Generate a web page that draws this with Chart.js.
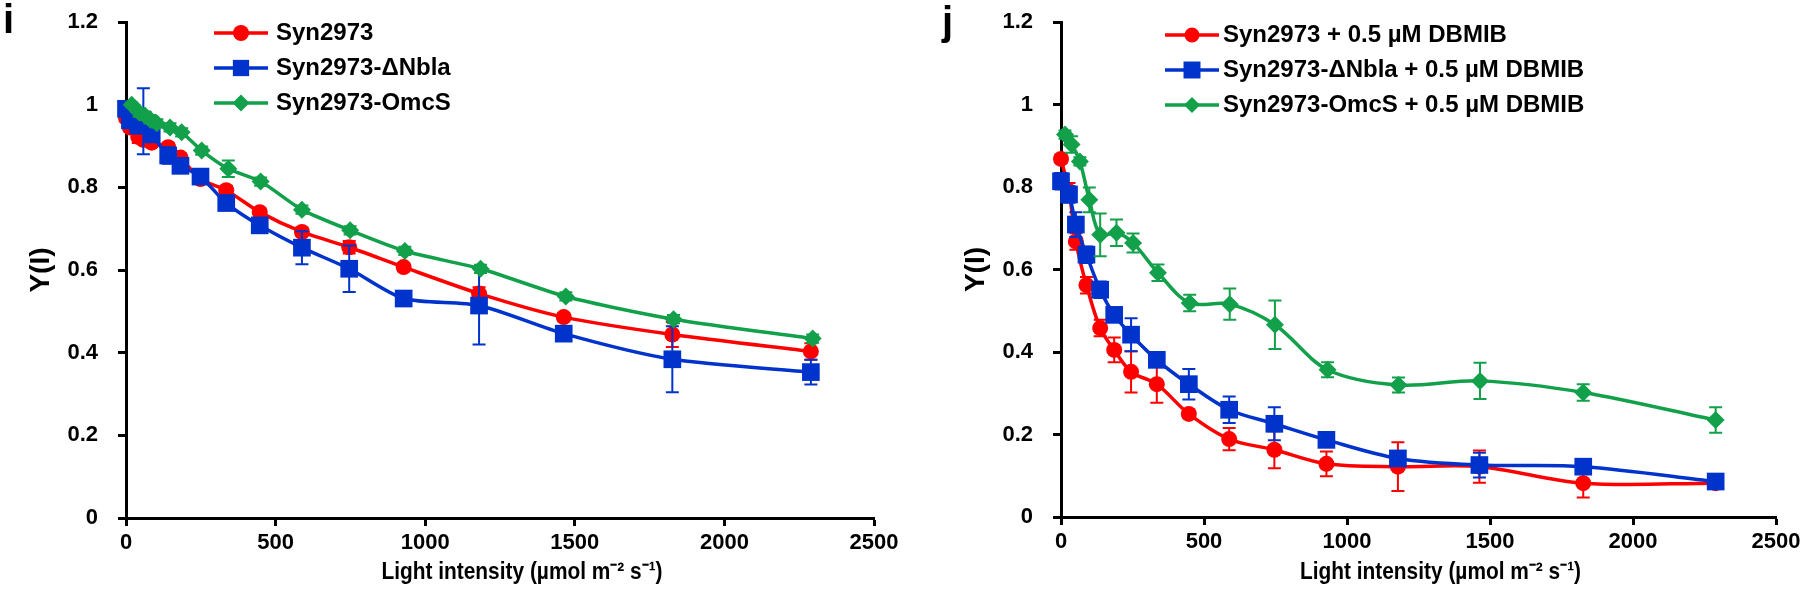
<!DOCTYPE html>
<html><head><meta charset="utf-8">
<script src="https://cdn.jsdelivr.net/npm/chart.js@4/dist/chart.umd.min.js"></script>
<style>
html,body{margin:0;padding:0;background:#fff;width:1806px;height:612px;overflow:hidden}
.panel{position:absolute;top:0;width:903px;height:612px}
.lbl{position:absolute;font:bold 40px "Liberation Sans",Arial,sans-serif;color:#000;line-height:1}
</style></head><body>
<div class="panel" style="left:0"><canvas id="c1" width="903" height="612"></canvas></div>
<div class="panel" style="left:903px"><canvas id="c2" width="903" height="612"></canvas></div>
<div class="lbl" style="left:3px;top:-1px">i</div>
<div class="lbl" style="left:942px;top:1px">j</div>
<script>
// ---------- data ----------
const xTickLabels = ['0', '500', '1000', '1500', '2000', '2500'];
const yTickLabels = ['0', '0.2', '0.4', '0.6', '0.8', '1', '1.2'];
const xTitle = 'Light intensity (µmol m⁻² s⁻¹)';
const yTitle = 'Y(I)';

// panel i
const iLabels = ['Syn2973', 'Syn2973-ΔNbla', 'Syn2973-OmcS'];
const iX      = [0, 13, 41, 58, 86, 141, 182, 249, 335, 447, 588, 746, 928, 1180, 1463, 1826, 2289];
const iXOmcS  = [19, 44, 64, 80, 103, 147, 186, 253, 342, 450, 588, 749, 932, 1185, 1470, 1830, 2295];
const iSyn     = [0.968, 0.945, 0.922, 0.915, 0.908, 0.897, 0.872, 0.820, 0.793, 0.740, 0.692, 0.655, 0.607, 0.543, 0.486, 0.444, 0.403];
const iSynErr  = [0.01, 0.01, 0.015, 0.01, 0.01, 0.01, 0.01, 0.01, 0.01, 0.01, 0.01, 0.015, 0.01, 0.015, 0.01, 0.03, 0.02];
const iNbla    = [0.990, 0.962, 0.950, 0.960, 0.928, 0.877, 0.852, 0.826, 0.762, 0.708, 0.654, 0.603, 0.531, 0.514, 0.446, 0.384, 0.353];
const iNblaErr = [0.01, 0.015, 0.02, 0.08, 0.015, 0.02, 0.01, 0.01, 0.015, 0.01, 0.04, 0.056, 0.01, 0.094, 0.01, 0.08, 0.03];
const iOmcS    = [1.000, 0.981, 0.973, 0.965, 0.955, 0.945, 0.933, 0.889, 0.845, 0.814, 0.746, 0.696, 0.646, 0.603, 0.536, 0.481, 0.434];
const iOmcSErr = [0.005, 0.01, 0.01, 0.01, 0.01, 0.01, 0.01, 0.01, 0.02, 0.01, 0.01, 0.01, 0.01, 0.01, 0.01, 0.01, 0.01];

// panel j
const jLabels = ['Syn2973 + 0.5 µM DBMIB', 'Syn2973-ΔNbla + 0.5 µM DBMIB', 'Syn2973-OmcS + 0.5 µM DBMIB'];
const jX      = [0, 28, 52, 89, 137, 186, 245, 335, 447, 588, 746, 928, 1178, 1463, 1826, 2289];
const jXOmcS  = [14, 37, 66, 99, 137, 194, 252, 339, 450, 590, 748, 932, 1180, 1465, 1826, 2289];
const jSyn     = [0.868, 0.790, 0.668, 0.562, 0.458, 0.405, 0.352, 0.322, 0.250, 0.189, 0.163, 0.129, 0.122, 0.122, 0.082, 0.082];
const jSynErr  = [0.01, 0.02, 0.02, 0.02, 0.02, 0.03, 0.05, 0.045, 0.01, 0.027, 0.045, 0.03, 0.059, 0.039, 0.035, 0.005];
const jNbla    = [0.814, 0.782, 0.709, 0.636, 0.551, 0.490, 0.442, 0.381, 0.322, 0.260, 0.226, 0.187, 0.142, 0.126, 0.122, 0.086];
const jNblaErr = [0.02, 0.02, 0.03, 0.02, 0.02, 0.01, 0.04, 0.01, 0.037, 0.032, 0.04, 0.015, 0.01, 0.03, 0.01, 0.005];
const jOmcS    = [0.927, 0.903, 0.862, 0.769, 0.684, 0.689, 0.664, 0.592, 0.519, 0.516, 0.466, 0.357, 0.320, 0.330, 0.302, 0.235];
const jOmcSErr = [0.01, 0.02, 0.01, 0.03, 0.052, 0.032, 0.023, 0.02, 0.02, 0.038, 0.059, 0.018, 0.018, 0.044, 0.02, 0.031];

// ---------- styling ----------
const FONT = '"Liberation Sans", Arial, sans-serif';
const COLORS = ['#FF0000', '#0033CC', '#12A04A'];
const STYLES = ['circle', 'rect', 'rectRot'];
const RADII = [8, 12.5, 9];

function drawMarker(ctx, style, r, x, y, color) {
  ctx.fillStyle = color; ctx.beginPath();
  if (style === 'circle') ctx.arc(x, y, r, 0, Math.PI * 2);
  else if (style === 'rect') { const s = r * Math.SQRT1_2; ctx.rect(x - s, y - s, 2 * s, 2 * s); }
  else { ctx.moveTo(x, y - r); ctx.lineTo(x + r, y); ctx.lineTo(x, y + r); ctx.lineTo(x - r, y); ctx.closePath(); }
  ctx.fill();
}

const errorBars = {
  id: 'errorBars',
  beforeDatasetDraw(chart, args) {
    const ds = chart.data.datasets[args.index];
    if (!ds.errors) return;
    const ys = chart.scales.y, ctx = chart.ctx;
    ctx.save();
    ctx.strokeStyle = ds.borderColor; ctx.lineWidth = 2;
    args.meta.data.forEach((pt, i) => {
      const e = ds.errors[i]; if (!e) return;
      const v = ds.data[i].y;
      const y1 = ys.getPixelForValue(v + e), y2 = ys.getPixelForValue(v - e), x = pt.x;
      ctx.beginPath();
      ctx.moveTo(x, y1); ctx.lineTo(x, y2);
      ctx.moveTo(x - 6.5, y1); ctx.lineTo(x + 6.5, y1);
      ctx.moveTo(x - 6.5, y2); ctx.lineTo(x + 6.5, y2);
      ctx.stroke();
    });
    ctx.restore();
  }
};

const legendDecor = {
  id: 'legendDecor',
  beforeDraw(chart, args, opts) {
    const pad = chart.options.plugins.legend.labels.padding;
    chart.legend.left = opts.x - pad;
    chart.legend.top = opts.y - pad;
  },
  afterDraw(chart, args, opts) {
    const lo = chart.options.plugins.legend.labels;
    const fs = lo.font.size, pad = lo.padding;
    const itemH = Math.max(fs, lo.boxHeight);
    const ctx = chart.ctx;
    chart.data.datasets.forEach((ds, i) => {
      const x0 = opts.x;
      const cy = opts.y + i * (itemH + pad) + fs / 2;
      ctx.save();
      ctx.strokeStyle = ds.borderColor; ctx.lineWidth = 3.5;
      ctx.beginPath(); ctx.moveTo(x0, cy); ctx.lineTo(x0 + opts.lineLen, cy); ctx.stroke();
      drawMarker(ctx, STYLES[i], opts.radii[i], x0 + opts.lineLen / 2, cy, ds.borderColor);
      ctx.restore();
    });
  }
};

// x-axis title: condensed look and placement like the original
const titleTweak = {
  id: 'titleTweak',
  beforeDraw(chart, args, opts) {
    const sc = chart.scales.x;
    if (sc._tweaked) return;
    const orig = sc.drawTitle;
    sc.drawTitle = function () {
      const ctx = this.ctx, mid = (this.left + this.right) / 2;
      ctx.save();
      ctx.translate(mid + opts.dx, 0); ctx.scale(opts.sx, 1); ctx.translate(-mid, 0);
      orig.call(this);
      ctx.restore();
    };
    sc._tweaked = true;
  }
};

function makeChart(id, p) {
  const datasets = p.labels.map((lab, k) => ({
    label: lab,
    data: p.xs[k].map((x, i) => ({ x: x, y: p.ys[k][i] })),
    errors: p.errs[k],
    borderColor: COLORS[k], backgroundColor: COLORS[k],
    borderWidth: 3.5, tension: p.tension,
    pointStyle: STYLES[k], pointRadius: RADII[k], pointHoverRadius: RADII[k],
    pointBackgroundColor: COLORS[k], pointBorderWidth: 0,
    clip: false, order: 3 - k
  }));
  const tickFont = { family: FONT, size: 22, weight: 'bold' };
  return new Chart(document.getElementById(id), {
    type: 'line',
    data: { datasets },
    plugins: [errorBars, legendDecor, titleTweak],
    options: {
      responsive: false, animation: false, events: [],
      layout: { padding: { left: 0, right: 903 - p.area.right, top: p.area.top, bottom: 0 } },
      scales: {
        x: {
          type: 'linear', min: 0, max: 2500,
          afterFit: s => { s.height = 612 - p.area.bottom; s.paddingLeft = 0; s.paddingRight = 0; },
          ticks: { stepSize: 500, autoSkip: false, maxRotation: 0, color: '#000', font: tickFont, padding: 4,
                   callback: (v, i) => xTickLabels[i] },
          grid: { display: true, drawOnChartArea: false, drawTicks: true, tickLength: 8, tickWidth: 3, tickColor: '#000', color: '#000' },
          border: { display: true, color: '#000', width: 3 },
          title: { display: true, text: xTitle, color: '#000', font: { family: FONT, size: 24, weight: 'bold' }, padding: { top: 0, bottom: 25 } }
        },
        y: {
          type: 'linear', min: 0, max: 1.2,
          afterFit: s => { s.width = p.area.left; s.paddingTop = 0; s.paddingBottom = 0; },
          ticks: { stepSize: 0.2, color: '#000', font: tickFont, padding: 20,
                   callback: (v, i) => yTickLabels[i] },
          grid: { display: true, drawOnChartArea: false, drawTicks: true, tickLength: 8, tickWidth: 3, tickColor: '#000', color: '#000' },
          border: { display: true, color: '#000', width: 3 },
          title: { display: true, text: yTitle, color: '#000', font: { family: FONT, size: 28, weight: 'bold' }, padding: { top: p.yTitlePad, bottom: 0 } }
        }
      },
      plugins: {
        tooltip: { enabled: false },
        legend: {
          display: true, position: 'chartArea', align: 'start',
          labels: {
            color: '#000', font: { family: FONT, size: 24, weight: 'bold' },
            boxWidth: p.legend.boxWidth, boxHeight: 4, padding: 11,
            sort: (a, b) => a.datasetIndex - b.datasetIndex,
            generateLabels: chart => chart.data.datasets.map((ds, i) => ({
              text: ds.label, datasetIndex: i, fillStyle: 'rgba(0,0,0,0)', strokeStyle: 'rgba(0,0,0,0)',
              lineWidth: 0, hidden: false, fontColor: '#000'
            }))
          }
        },
        legendDecor: { x: p.legend.x, y: p.legend.y, lineLen: p.legend.lineLen, radii: p.legend.radii },
        titleTweak: { dx: 22, sx: 0.87 }
      }
    }
  });
}

makeChart('c1', {
  labels: iLabels,
  xs: [iX, iX, iXOmcS], ys: [iSyn, iNbla, iOmcS], errs: [iSynErr, iNblaErr, iOmcSErr],
  area: { left: 126, right: 874, top: 22, bottom: 518 },
  yTitlePad: 24, tension: 0.25,
  legend: { x: 214, y: 21, boxWidth: 50, lineLen: 54, radii: [8, 11.5, 8.5] }
});
makeChart('c2', {
  labels: jLabels,
  xs: [jX, jX, jXOmcS], ys: [jSyn, jNbla, jOmcS], errs: [jSynErr, jNblaErr, jOmcSErr],
  area: { left: 158, right: 873, top: 22, bottom: 517 },
  yTitlePad: 56, tension: 0.33,
  legend: { x: 262, y: 23, boxWidth: 46, lineLen: 54, radii: [7.5, 12, 8] }
});
</script>
</body></html>
